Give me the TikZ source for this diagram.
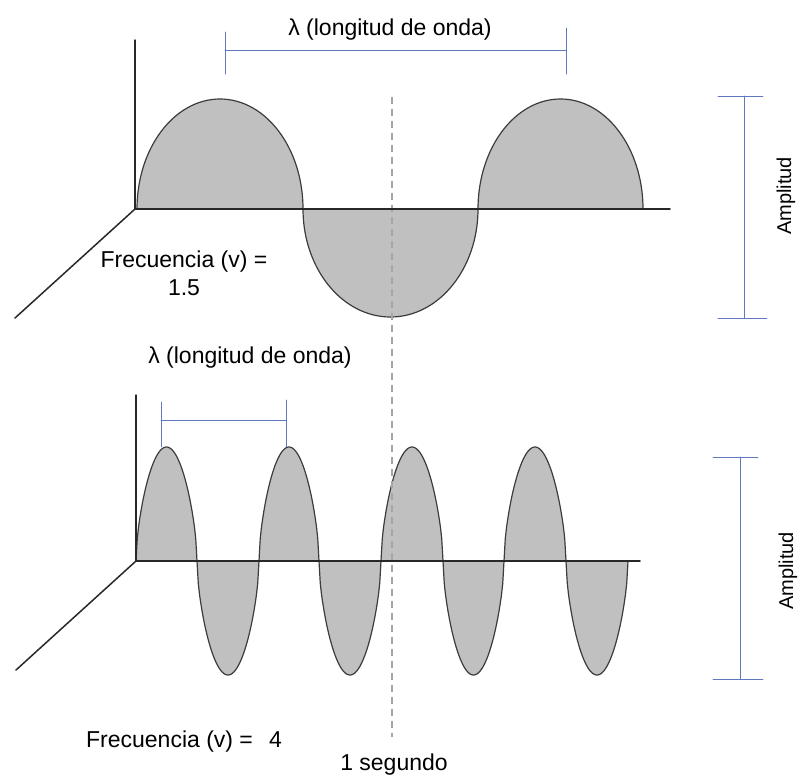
\documentclass[tikz,border=0pt]{standalone}
\usepackage{fontspec}
\setmainfont{Liberation Sans}
\definecolor{Wfill}{RGB}{192,192,192}
\definecolor{Wline}{RGB}{60,60,60}
\definecolor{Aline}{RGB}{40,40,40}
\definecolor{Bline}{RGB}{95,120,190}
\definecolor{Dline}{RGB}{165,165,165}

\begin{document}
\begin{tikzpicture}[x=1pt,y=1pt,yscale=-1,line cap=round,line join=round,
  lobe/.style={fill=Wfill,draw=Wline,line width=1.2pt},
  axis/.style={draw=Aline,line width=1.5pt},
  bar/.style={draw=Bline,line width=0.9pt},
  secline/.style={draw=Dline,line width=1.1pt,dash pattern=on 7pt off 5pt,line cap=butt},
  lbl/.style={inner sep=0pt,font=\fontsize{23}{28}\selectfont},
  amp/.style={inner sep=0pt,rotate=90,font=\fontsize{20}{24}\selectfont}]
\path[use as bounding box] (0,0) rectangle (800,782);
% wave with nu = 1.5
\path[lobe] (137,209) arc[start angle=180,end angle=360,x radius=83,y radius=110] -- cycle;
\path[lobe] (303,209) arc[start angle=180,end angle=0,x radius=87.5,y radius=108] -- cycle;
\path[lobe] (478,209) arc[start angle=180,end angle=360,x radius=82.5,y radius=110] -- cycle;
% wave with nu = 4
\path[lobe] plot[domain=0:180,samples=50] ({136+61*\x/180},{561-114*max(sin(\x),0)^0.6}) -- cycle;
\path[lobe] plot[domain=0:180,samples=50] ({197+62*\x/180},{561+114*max(sin(\x),0)^0.6}) -- cycle;
\path[lobe] plot[domain=0:180,samples=50] ({259+60*\x/180},{561-114*max(sin(\x),0)^0.6}) -- cycle;
\path[lobe] plot[domain=0:180,samples=50] ({319+62*\x/180},{561+114*max(sin(\x),0)^0.6}) -- cycle;
\path[lobe] plot[domain=0:180,samples=50] ({381+62*\x/180},{561-114*max(sin(\x),0)^0.6}) -- cycle;
\path[lobe] plot[domain=0:180,samples=50] ({443+61*\x/180},{561+114*max(sin(\x),0)^0.6}) -- cycle;
\path[lobe] plot[domain=0:180,samples=50] ({504+62*\x/180},{561-114*max(sin(\x),0)^0.6}) -- cycle;
\path[lobe] plot[domain=0:180,samples=50] ({566+62*\x/180},{561+114*max(sin(\x),0)^0.6}) -- cycle;
% one second
\coordinate (secT) at (392,97);
\coordinate (secB) at (392,737);
\draw[secline] (secT) -- (secB);
% axes
\coordinate (oA) at (135,209);
\coordinate (oB) at (136,561);
\draw[axis] (135,40) -- (oA) -- (670,209);
\draw[axis] (oA) -- (15,318);
\draw[axis] (136,395) -- (oB) -- (640,561);
\draw[axis] (oB) -- (16,670);
% wavelength brackets
\coordinate (lamAl) at (225,50);
\coordinate (lamAr) at (566,50);
\draw[bar] (lamAl) -- (lamAr);
\draw[bar] (225,32) -- (225,74);
\draw[bar] (566,28) -- (566,74);
\coordinate (lamBl) at (161,420);
\coordinate (lamBr) at (286,420);
\draw[bar] (lamBl) -- (lamBr);
\draw[bar] (161,402) -- (161,447);
\draw[bar] (286,400) -- (286,447);
% amplitude bars
\coordinate (ampAt) at (744,96);
\coordinate (ampAb) at (744,318);
\draw[bar] (ampAt) -- (ampAb);
\draw[bar] (718,96) -- (763,96);
\draw[bar] (718,318) -- (767,318);
\coordinate (ampBt) at (740,457);
\coordinate (ampBb) at (740,679);
\draw[bar] (ampBt) -- (ampBb);
\draw[bar] (713,457) -- (758,457);
\draw[bar] (713,679) -- (763,679);
% labels
\node[lbl] (lamA) at (390,30) {λ (longitud de onda)};
\node[lbl] (lamB) at (250,358) {λ (longitud de onda)};
\node[lbl,align=center] (freqA) at (184,273) {Frecuencia (v) =\\1.5};
\node[lbl] (freqB) at (184,742) {Frecuencia (v) =\hspace{0.7em}4};
\node[lbl] (sec) at (394,765) {1 segundo};
\node[amp] (ampA) at (786,196) {Amplitud};
\node[amp] (ampB) at (788,571) {Amplitud};
\end{tikzpicture}
\end{document}
